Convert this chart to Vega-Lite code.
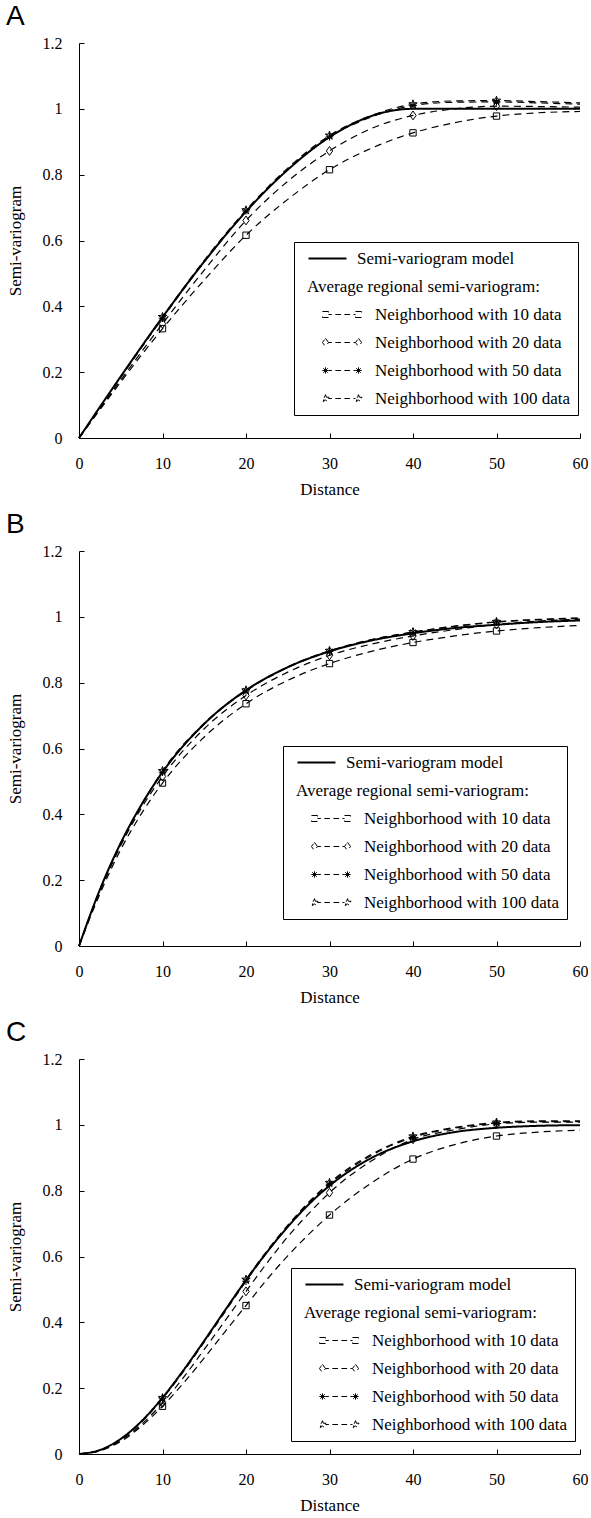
{
"$schema": "https://vega.github.io/schema/vega-lite/v6.json",
"background": "white",
"padding": {"left": 6, "top": 3, "right": 0, "bottom": 0},
"spacing": 14,
"datasets": {
"curves": [
{"panel":"A","series":"model","distance":0,"value":0},{"panel":"A","series":"model","distance":5,"value":0.187},{"panel":"A","series":"model","distance":10,"value":0.367},{"panel":"A","series":"model","distance":15,"value":0.536},{"panel":"A","series":"model","distance":20,"value":0.688},{"panel":"A","series":"model","distance":25,"value":0.815},{"panel":"A","series":"model","distance":30,"value":0.914},{"panel":"A","series":"model","distance":35,"value":0.978},{"panel":"A","series":"model","distance":40,"value":1},{"panel":"A","series":"model","distance":45,"value":1},{"panel":"A","series":"model","distance":50,"value":1},{"panel":"A","series":"model","distance":55,"value":1},{"panel":"A","series":"model","distance":60,"value":1},
{"panel":"A","series":"10","distance":0,"value":0},{"panel":"A","series":"10","distance":5,"value":0.17},{"panel":"A","series":"10","distance":10,"value":0.332},{"panel":"A","series":"10","distance":15,"value":0.48},{"panel":"A","series":"10","distance":20,"value":0.616},{"panel":"A","series":"10","distance":25,"value":0.725},{"panel":"A","series":"10","distance":30,"value":0.815},{"panel":"A","series":"10","distance":35,"value":0.88},{"panel":"A","series":"10","distance":40,"value":0.927},{"panel":"A","series":"10","distance":45,"value":0.958},{"panel":"A","series":"10","distance":50,"value":0.978},{"panel":"A","series":"10","distance":55,"value":0.988},{"panel":"A","series":"10","distance":60,"value":0.992},
{"panel":"A","series":"20","distance":0,"value":0},{"panel":"A","series":"20","distance":5,"value":0.176},{"panel":"A","series":"20","distance":10,"value":0.347},{"panel":"A","series":"20","distance":15,"value":0.51},{"panel":"A","series":"20","distance":20,"value":0.661},{"panel":"A","series":"20","distance":25,"value":0.78},{"panel":"A","series":"20","distance":30,"value":0.872},{"panel":"A","series":"20","distance":35,"value":0.94},{"panel":"A","series":"20","distance":40,"value":0.98},{"panel":"A","series":"20","distance":45,"value":1.0},{"panel":"A","series":"20","distance":50,"value":1.008},{"panel":"A","series":"20","distance":55,"value":1.007},{"panel":"A","series":"20","distance":60,"value":1.005},
{"panel":"A","series":"50","distance":0,"value":0},{"panel":"A","series":"50","distance":5,"value":0.184},{"panel":"A","series":"50","distance":10,"value":0.364},{"panel":"A","series":"50","distance":15,"value":0.535},{"panel":"A","series":"50","distance":20,"value":0.69},{"panel":"A","series":"50","distance":25,"value":0.815},{"panel":"A","series":"50","distance":30,"value":0.915},{"panel":"A","series":"50","distance":35,"value":0.975},{"panel":"A","series":"50","distance":40,"value":1.01},{"panel":"A","series":"50","distance":45,"value":1.02},{"panel":"A","series":"50","distance":50,"value":1.021},{"panel":"A","series":"50","distance":55,"value":1.018},{"panel":"A","series":"50","distance":60,"value":1.014},
{"panel":"A","series":"100","distance":0,"value":0},{"panel":"A","series":"100","distance":5,"value":0.186},{"panel":"A","series":"100","distance":10,"value":0.368},{"panel":"A","series":"100","distance":15,"value":0.54},{"panel":"A","series":"100","distance":20,"value":0.692},{"panel":"A","series":"100","distance":25,"value":0.82},{"panel":"A","series":"100","distance":30,"value":0.919},{"panel":"A","series":"100","distance":35,"value":0.98},{"panel":"A","series":"100","distance":40,"value":1.014},{"panel":"A","series":"100","distance":45,"value":1.024},{"panel":"A","series":"100","distance":50,"value":1.025},{"panel":"A","series":"100","distance":55,"value":1.022},{"panel":"A","series":"100","distance":60,"value":1.018},
{"panel":"B","series":"model","distance":0,"value":0},{"panel":"B","series":"model","distance":2.5,"value":0.171},{"panel":"B","series":"model","distance":5,"value":0.313},{"panel":"B","series":"model","distance":7.5,"value":0.43},{"panel":"B","series":"model","distance":10,"value":0.528},{"panel":"B","series":"model","distance":15,"value":0.675},{"panel":"B","series":"model","distance":20,"value":0.777},{"panel":"B","series":"model","distance":25,"value":0.847},{"panel":"B","series":"model","distance":30,"value":0.895},{"panel":"B","series":"model","distance":35,"value":0.928},{"panel":"B","series":"model","distance":40,"value":0.95},{"panel":"B","series":"model","distance":45,"value":0.966},{"panel":"B","series":"model","distance":50,"value":0.976},{"panel":"B","series":"model","distance":55,"value":0.984},{"panel":"B","series":"model","distance":60,"value":0.989},
{"panel":"B","series":"10","distance":0,"value":0},{"panel":"B","series":"10","distance":2.5,"value":0.158},{"panel":"B","series":"10","distance":5,"value":0.293},{"panel":"B","series":"10","distance":7.5,"value":0.403},{"panel":"B","series":"10","distance":10,"value":0.495},{"panel":"B","series":"10","distance":15,"value":0.635},{"panel":"B","series":"10","distance":20,"value":0.736},{"panel":"B","series":"10","distance":25,"value":0.807},{"panel":"B","series":"10","distance":30,"value":0.858},{"panel":"B","series":"10","distance":35,"value":0.895},{"panel":"B","series":"10","distance":40,"value":0.922},{"panel":"B","series":"10","distance":45,"value":0.942},{"panel":"B","series":"10","distance":50,"value":0.957},{"panel":"B","series":"10","distance":55,"value":0.967},{"panel":"B","series":"10","distance":60,"value":0.974},
{"panel":"B","series":"20","distance":0,"value":0},{"panel":"B","series":"20","distance":2.5,"value":0.165},{"panel":"B","series":"20","distance":5,"value":0.305},{"panel":"B","series":"20","distance":7.5,"value":0.42},{"panel":"B","series":"20","distance":10,"value":0.515},{"panel":"B","series":"20","distance":15,"value":0.66},{"panel":"B","series":"20","distance":20,"value":0.761},{"panel":"B","series":"20","distance":25,"value":0.832},{"panel":"B","series":"20","distance":30,"value":0.883},{"panel":"B","series":"20","distance":35,"value":0.917},{"panel":"B","series":"20","distance":40,"value":0.942},{"panel":"B","series":"20","distance":45,"value":0.961},{"panel":"B","series":"20","distance":50,"value":0.977},{"panel":"B","series":"20","distance":55,"value":0.987},{"panel":"B","series":"20","distance":60,"value":0.993},
{"panel":"B","series":"50","distance":0,"value":0},{"panel":"B","series":"50","distance":2.5,"value":0.17},{"panel":"B","series":"50","distance":5,"value":0.312},{"panel":"B","series":"50","distance":7.5,"value":0.429},{"panel":"B","series":"50","distance":10,"value":0.528},{"panel":"B","series":"50","distance":15,"value":0.674},{"panel":"B","series":"50","distance":20,"value":0.775},{"panel":"B","series":"50","distance":25,"value":0.846},{"panel":"B","series":"50","distance":30,"value":0.895},{"panel":"B","series":"50","distance":35,"value":0.93},{"panel":"B","series":"50","distance":40,"value":0.953},{"panel":"B","series":"50","distance":45,"value":0.971},{"panel":"B","series":"50","distance":50,"value":0.984},{"panel":"B","series":"50","distance":55,"value":0.991},{"panel":"B","series":"50","distance":60,"value":0.995},
{"panel":"B","series":"100","distance":0,"value":0},{"panel":"B","series":"100","distance":2.5,"value":0.171},{"panel":"B","series":"100","distance":5,"value":0.313},{"panel":"B","series":"100","distance":7.5,"value":0.43},{"panel":"B","series":"100","distance":10,"value":0.532},{"panel":"B","series":"100","distance":15,"value":0.677},{"panel":"B","series":"100","distance":20,"value":0.777},{"panel":"B","series":"100","distance":25,"value":0.848},{"panel":"B","series":"100","distance":30,"value":0.897},{"panel":"B","series":"100","distance":35,"value":0.931},{"panel":"B","series":"100","distance":40,"value":0.954},{"panel":"B","series":"100","distance":45,"value":0.972},{"panel":"B","series":"100","distance":50,"value":0.985},{"panel":"B","series":"100","distance":55,"value":0.992},{"panel":"B","series":"100","distance":60,"value":0.997},
{"panel":"C","series":"model","distance":0,"value":0},{"panel":"C","series":"model","distance":2.5,"value":0.012},{"panel":"C","series":"model","distance":5,"value":0.046},{"panel":"C","series":"model","distance":7.5,"value":0.1},{"panel":"C","series":"model","distance":10,"value":0.171},{"panel":"C","series":"model","distance":12.5,"value":0.254},{"panel":"C","series":"model","distance":15,"value":0.344},{"panel":"C","series":"model","distance":17.5,"value":0.437},{"panel":"C","series":"model","distance":20,"value":0.528},{"panel":"C","series":"model","distance":22.5,"value":0.613},{"panel":"C","series":"model","distance":25,"value":0.69},{"panel":"C","series":"model","distance":27.5,"value":0.758},{"panel":"C","series":"model","distance":30,"value":0.815},{"panel":"C","series":"model","distance":35,"value":0.899},{"panel":"C","series":"model","distance":40,"value":0.95},{"panel":"C","series":"model","distance":45,"value":0.978},{"panel":"C","series":"model","distance":50,"value":0.991},{"panel":"C","series":"model","distance":55,"value":0.997},{"panel":"C","series":"model","distance":60,"value":0.999},
{"panel":"C","series":"10","distance":0,"value":0},{"panel":"C","series":"10","distance":2.5,"value":0.01},{"panel":"C","series":"10","distance":5,"value":0.038},{"panel":"C","series":"10","distance":7.5,"value":0.085},{"panel":"C","series":"10","distance":10,"value":0.145},{"panel":"C","series":"10","distance":12.5,"value":0.215},{"panel":"C","series":"10","distance":15,"value":0.292},{"panel":"C","series":"10","distance":17.5,"value":0.372},{"panel":"C","series":"10","distance":20,"value":0.451},{"panel":"C","series":"10","distance":22.5,"value":0.53},{"panel":"C","series":"10","distance":25,"value":0.602},{"panel":"C","series":"10","distance":27.5,"value":0.667},{"panel":"C","series":"10","distance":30,"value":0.726},{"panel":"C","series":"10","distance":35,"value":0.823},{"panel":"C","series":"10","distance":40,"value":0.896},{"panel":"C","series":"10","distance":45,"value":0.94},{"panel":"C","series":"10","distance":50,"value":0.966},{"panel":"C","series":"10","distance":55,"value":0.978},{"panel":"C","series":"10","distance":60,"value":0.984},
{"panel":"C","series":"20","distance":0,"value":0},{"panel":"C","series":"20","distance":2.5,"value":0.01},{"panel":"C","series":"20","distance":5,"value":0.041},{"panel":"C","series":"20","distance":7.5,"value":0.09},{"panel":"C","series":"20","distance":10,"value":0.155},{"panel":"C","series":"20","distance":12.5,"value":0.232},{"panel":"C","series":"20","distance":15,"value":0.318},{"panel":"C","series":"20","distance":17.5,"value":0.405},{"panel":"C","series":"20","distance":20,"value":0.494},{"panel":"C","series":"20","distance":22.5,"value":0.58},{"panel":"C","series":"20","distance":25,"value":0.66},{"panel":"C","series":"20","distance":27.5,"value":0.73},{"panel":"C","series":"20","distance":30,"value":0.794},{"panel":"C","series":"20","distance":35,"value":0.89},{"panel":"C","series":"20","distance":40,"value":0.956},{"panel":"C","series":"20","distance":45,"value":0.985},{"panel":"C","series":"20","distance":50,"value":1.003},{"panel":"C","series":"20","distance":55,"value":1.008},{"panel":"C","series":"20","distance":60,"value":1.008},
{"panel":"C","series":"50","distance":0,"value":0},{"panel":"C","series":"50","distance":2.5,"value":0.011},{"panel":"C","series":"50","distance":5,"value":0.044},{"panel":"C","series":"50","distance":7.5,"value":0.097},{"panel":"C","series":"50","distance":10,"value":0.168},{"panel":"C","series":"50","distance":12.5,"value":0.25},{"panel":"C","series":"50","distance":15,"value":0.34},{"panel":"C","series":"50","distance":17.5,"value":0.432},{"panel":"C","series":"50","distance":20,"value":0.525},{"panel":"C","series":"50","distance":22.5,"value":0.612},{"panel":"C","series":"50","distance":25,"value":0.692},{"panel":"C","series":"50","distance":27.5,"value":0.762},{"panel":"C","series":"50","distance":30,"value":0.82},{"panel":"C","series":"50","distance":35,"value":0.907},{"panel":"C","series":"50","distance":40,"value":0.962},{"panel":"C","series":"50","distance":45,"value":0.99},{"panel":"C","series":"50","distance":50,"value":1.005},{"panel":"C","series":"50","distance":55,"value":1.01},{"panel":"C","series":"50","distance":60,"value":1.01},
{"panel":"C","series":"100","distance":0,"value":0},{"panel":"C","series":"100","distance":2.5,"value":0.012},{"panel":"C","series":"100","distance":5,"value":0.045},{"panel":"C","series":"100","distance":7.5,"value":0.099},{"panel":"C","series":"100","distance":10,"value":0.17},{"panel":"C","series":"100","distance":12.5,"value":0.253},{"panel":"C","series":"100","distance":15,"value":0.344},{"panel":"C","series":"100","distance":17.5,"value":0.437},{"panel":"C","series":"100","distance":20,"value":0.53},{"panel":"C","series":"100","distance":22.5,"value":0.617},{"panel":"C","series":"100","distance":25,"value":0.695},{"panel":"C","series":"100","distance":27.5,"value":0.765},{"panel":"C","series":"100","distance":30,"value":0.824},{"panel":"C","series":"100","distance":35,"value":0.91},{"panel":"C","series":"100","distance":40,"value":0.965},{"panel":"C","series":"100","distance":45,"value":0.992},{"panel":"C","series":"100","distance":50,"value":1.007},{"panel":"C","series":"100","distance":55,"value":1.012},{"panel":"C","series":"100","distance":60,"value":1.012}
],
"markers": [
{"panel":"A","series":"10","distance":10,"value":0.332},{"panel":"A","series":"10","distance":20,"value":0.616},{"panel":"A","series":"10","distance":30,"value":0.815},{"panel":"A","series":"10","distance":40,"value":0.927},{"panel":"A","series":"10","distance":50,"value":0.978},
{"panel":"A","series":"20","distance":10,"value":0.347},{"panel":"A","series":"20","distance":20,"value":0.661},{"panel":"A","series":"20","distance":30,"value":0.872},{"panel":"A","series":"20","distance":40,"value":0.98},{"panel":"A","series":"20","distance":50,"value":1.008},
{"panel":"A","series":"50","distance":10,"value":0.364},{"panel":"A","series":"50","distance":20,"value":0.69},{"panel":"A","series":"50","distance":30,"value":0.915},{"panel":"A","series":"50","distance":40,"value":1.01},{"panel":"A","series":"50","distance":50,"value":1.021},
{"panel":"A","series":"100","distance":10,"value":0.368},{"panel":"A","series":"100","distance":20,"value":0.692},{"panel":"A","series":"100","distance":30,"value":0.919},{"panel":"A","series":"100","distance":40,"value":1.014},{"panel":"A","series":"100","distance":50,"value":1.025},
{"panel":"B","series":"10","distance":10,"value":0.495},{"panel":"B","series":"10","distance":20,"value":0.736},{"panel":"B","series":"10","distance":30,"value":0.858},{"panel":"B","series":"10","distance":40,"value":0.922},{"panel":"B","series":"10","distance":50,"value":0.957},
{"panel":"B","series":"20","distance":10,"value":0.515},{"panel":"B","series":"20","distance":20,"value":0.761},{"panel":"B","series":"20","distance":30,"value":0.883},{"panel":"B","series":"20","distance":40,"value":0.942},{"panel":"B","series":"20","distance":50,"value":0.977},
{"panel":"B","series":"50","distance":10,"value":0.528},{"panel":"B","series":"50","distance":20,"value":0.775},{"panel":"B","series":"50","distance":30,"value":0.895},{"panel":"B","series":"50","distance":40,"value":0.953},{"panel":"B","series":"50","distance":50,"value":0.984},
{"panel":"B","series":"100","distance":10,"value":0.532},{"panel":"B","series":"100","distance":20,"value":0.777},{"panel":"B","series":"100","distance":30,"value":0.897},{"panel":"B","series":"100","distance":40,"value":0.954},{"panel":"B","series":"100","distance":50,"value":0.985},
{"panel":"C","series":"10","distance":10,"value":0.145},{"panel":"C","series":"10","distance":20,"value":0.451},{"panel":"C","series":"10","distance":30,"value":0.726},{"panel":"C","series":"10","distance":40,"value":0.896},{"panel":"C","series":"10","distance":50,"value":0.966},
{"panel":"C","series":"20","distance":10,"value":0.155},{"panel":"C","series":"20","distance":20,"value":0.494},{"panel":"C","series":"20","distance":30,"value":0.794},{"panel":"C","series":"20","distance":40,"value":0.956},{"panel":"C","series":"20","distance":50,"value":1.003},
{"panel":"C","series":"50","distance":10,"value":0.168},{"panel":"C","series":"50","distance":20,"value":0.525},{"panel":"C","series":"50","distance":30,"value":0.82},{"panel":"C","series":"50","distance":40,"value":0.962},{"panel":"C","series":"50","distance":50,"value":1.005},
{"panel":"C","series":"100","distance":10,"value":0.17},{"panel":"C","series":"100","distance":20,"value":0.53},{"panel":"C","series":"100","distance":30,"value":0.824},{"panel":"C","series":"100","distance":40,"value":0.965},{"panel":"C","series":"100","distance":50,"value":1.007}
]
},
"vconcat": [
{
"title": {"text": "A"},
"width": 501, "height": 395,
"layer": [
{"data": {"name": "curves"}, "transform": [{"filter": "datum.panel == 'A' && datum.series == 'model'"}],
 "mark": {"type": "line", "interpolate": "monotone", "color": "black", "strokeWidth": 2},
 "encoding": {
  "x": {"field": "distance", "type": "quantitative", "scale": {"domain": [0, 60], "nice": false}, "axis": {"title": "Distance", "values": [0, 10, 20, 30, 40, 50, 60]}},
  "y": {"field": "value", "type": "quantitative", "scale": {"domain": [0, 1.2], "nice": false}, "axis": {"title": "Semi-variogram", "values": [0, 0.2, 0.4, 0.6, 0.8, 1, 1.2], "format": "~g"}},
  "strokeDash": {"field": "series", "type": "nominal", "scale": {"domain": ["model", "header", "10", "20", "50", "100"], "range": [[1, 0], [1, 0], [7, 5], [7, 5], [7, 5], [7, 5]]},
   "legend": {"title": null, "legendX": 215, "legendY": 199,
    "labelExpr": "datum.value == 'model' ? 'Semi-variogram model' : datum.value == 'header' ? 'Average regional semi-variogram:' : 'Neighborhood with ' + datum.value + ' data'",
    "encode": {
     "symbols": {"update": {
      "shape": {"signal": "datum.value == 'model' ? 'M-4.79,0H0.64' : datum.value == 'header' ? 'M0,0' : datum.value == '10' ? 'M-2.79,-0.43H-1.93V0.43H-2.79ZM1.93,-0.43H2.79V0.43H1.93ZM-1.93,0H-1.45M-0.95,0H-0.15M0.35,0H1.15M1.65,0H1.93' : datum.value == '20' ? 'M-2.36,-0.6L-1.93,0L-2.36,0.6L-2.79,0ZM2.36,-0.6L2.79,0L2.36,0.6L1.93,0ZM-1.93,0H-1.45M-0.95,0H-0.15M0.35,0H1.15M1.65,0H1.93' : datum.value == '50' ? 'M-2.81,0H-1.91M-2.36,-0.45V0.45M-2.68,-0.32L-2.04,0.32M-2.68,0.32L-2.04,-0.32M1.91,0H2.81M2.36,-0.45V0.45M2.04,-0.32L2.68,0.32M2.04,0.32L2.68,-0.32M-1.93,0H-1.45M-0.95,0H-0.15M0.35,0H1.15M1.65,0H1.93' : 'M-2.36,-0.55L-2.231,-0.178L-1.837,-0.17L-2.151,0.068L-2.037,0.445L-2.36,0.22L-2.683,0.445L-2.569,0.068L-2.883,-0.17L-2.489,-0.178ZM2.36,-0.55L2.489,-0.178L2.883,-0.17L2.569,0.068L2.683,0.445L2.36,0.22L2.037,0.445L2.151,0.068L1.837,-0.17L2.231,-0.178ZM-1.93,0H-1.45M-0.95,0H-0.15M0.35,0H1.15M1.65,0H1.93'"},
      "strokeDash": {"value": [1, 0]},
      "strokeWidth": {"signal": "datum.value == 'model' ? 2 : 1"},
      "stroke": {"value": "black"},
      "fill": {"value": "transparent"}}},
     "labels": {"update": {"dx": {"signal": "datum.value == 'model' ? -18 : datum.value == 'header' ? -68 : 0"}}}}}}
 }},
{"data": {"name": "curves"}, "transform": [{"filter": "datum.panel == 'A' && datum.series != 'model'"}],
 "mark": {"type": "line", "interpolate": "monotone", "color": "black", "strokeWidth": 1.2},
 "encoding": {
  "x": {"field": "distance", "type": "quantitative"},
  "y": {"field": "value", "type": "quantitative"},
  "strokeDash": {"field": "series", "type": "nominal"}
 }},
{"data": {"name": "markers"}, "transform": [{"filter": "datum.panel == 'A'"}],
 "mark": {"type": "point", "filled": false, "color": "black", "strokeWidth": 1, "size": 40, "opacity": 1},
 "encoding": {
  "x": {"field": "distance", "type": "quantitative"},
  "y": {"field": "value", "type": "quantitative"},
  "shape": {"field": "series", "type": "nominal", "legend": null, "scale": {"domain": ["10", "20", "50", "100"], "range": ["M-1,-1H1V1H-1Z", "M0,-1.4L1,0L0,1.4L-1,0Z", "M-1.2,0H1.2M0,-1.2V1.2M-0.85,-0.85L0.85,0.85M-0.85,0.85L0.85,-0.85", "M0,-1.4L0.329,-0.453L1.331,-0.433L0.533,0.173L0.823,1.133L0,0.56L-0.823,1.133L-0.533,0.173L-1.331,-0.433L-0.329,-0.453Z"]}}
 }}
]
},
{
"title": {"text": "B"},
"width": 501, "height": 395,
"layer": [
{"data": {"name": "curves"}, "transform": [{"filter": "datum.panel == 'B' && datum.series == 'model'"}],
 "mark": {"type": "line", "interpolate": "monotone", "color": "black", "strokeWidth": 2},
 "encoding": {
  "x": {"field": "distance", "type": "quantitative", "scale": {"domain": [0, 60], "nice": false}, "axis": {"title": "Distance", "values": [0, 10, 20, 30, 40, 50, 60]}},
  "y": {"field": "value", "type": "quantitative", "scale": {"domain": [0, 1.2], "nice": false}, "axis": {"title": "Semi-variogram", "values": [0, 0.2, 0.4, 0.6, 0.8, 1, 1.2], "format": "~g"}},
  "strokeDash": {"field": "series", "type": "nominal", "scale": {"domain": ["model", "header", "10", "20", "50", "100"], "range": [[1, 0], [1, 0], [7, 5], [7, 5], [7, 5], [7, 5]]},
   "legend": {"title": null, "legendX": 204, "legendY": 195,
    "labelExpr": "datum.value == 'model' ? 'Semi-variogram model' : datum.value == 'header' ? 'Average regional semi-variogram:' : 'Neighborhood with ' + datum.value + ' data'",
    "encode": {
     "symbols": {"update": {
      "shape": {"signal": "datum.value == 'model' ? 'M-4.79,0H0.64' : datum.value == 'header' ? 'M0,0' : datum.value == '10' ? 'M-2.79,-0.43H-1.93V0.43H-2.79ZM1.93,-0.43H2.79V0.43H1.93ZM-1.93,0H-1.45M-0.95,0H-0.15M0.35,0H1.15M1.65,0H1.93' : datum.value == '20' ? 'M-2.36,-0.6L-1.93,0L-2.36,0.6L-2.79,0ZM2.36,-0.6L2.79,0L2.36,0.6L1.93,0ZM-1.93,0H-1.45M-0.95,0H-0.15M0.35,0H1.15M1.65,0H1.93' : datum.value == '50' ? 'M-2.81,0H-1.91M-2.36,-0.45V0.45M-2.68,-0.32L-2.04,0.32M-2.68,0.32L-2.04,-0.32M1.91,0H2.81M2.36,-0.45V0.45M2.04,-0.32L2.68,0.32M2.04,0.32L2.68,-0.32M-1.93,0H-1.45M-0.95,0H-0.15M0.35,0H1.15M1.65,0H1.93' : 'M-2.36,-0.55L-2.231,-0.178L-1.837,-0.17L-2.151,0.068L-2.037,0.445L-2.36,0.22L-2.683,0.445L-2.569,0.068L-2.883,-0.17L-2.489,-0.178ZM2.36,-0.55L2.489,-0.178L2.883,-0.17L2.569,0.068L2.683,0.445L2.36,0.22L2.037,0.445L2.151,0.068L1.837,-0.17L2.231,-0.178ZM-1.93,0H-1.45M-0.95,0H-0.15M0.35,0H1.15M1.65,0H1.93'"},
      "strokeDash": {"value": [1, 0]},
      "strokeWidth": {"signal": "datum.value == 'model' ? 2 : 1"},
      "stroke": {"value": "black"},
      "fill": {"value": "transparent"}}},
     "labels": {"update": {"dx": {"signal": "datum.value == 'model' ? -18 : datum.value == 'header' ? -68 : 0"}}}}}}
 }},
{"data": {"name": "curves"}, "transform": [{"filter": "datum.panel == 'B' && datum.series != 'model'"}],
 "mark": {"type": "line", "interpolate": "monotone", "color": "black", "strokeWidth": 1.2},
 "encoding": {
  "x": {"field": "distance", "type": "quantitative"},
  "y": {"field": "value", "type": "quantitative"},
  "strokeDash": {"field": "series", "type": "nominal"}
 }},
{"data": {"name": "markers"}, "transform": [{"filter": "datum.panel == 'B'"}],
 "mark": {"type": "point", "filled": false, "color": "black", "strokeWidth": 1, "size": 40, "opacity": 1},
 "encoding": {
  "x": {"field": "distance", "type": "quantitative"},
  "y": {"field": "value", "type": "quantitative"},
  "shape": {"field": "series", "type": "nominal", "legend": null, "scale": {"domain": ["10", "20", "50", "100"], "range": ["M-1,-1H1V1H-1Z", "M0,-1.4L1,0L0,1.4L-1,0Z", "M-1.2,0H1.2M0,-1.2V1.2M-0.85,-0.85L0.85,0.85M-0.85,0.85L0.85,-0.85", "M0,-1.4L0.329,-0.453L1.331,-0.433L0.533,0.173L0.823,1.133L0,0.56L-0.823,1.133L-0.533,0.173L-1.331,-0.433L-0.329,-0.453Z"]}}
 }}
]
},
{
"title": {"text": "C"},
"width": 501, "height": 395,
"layer": [
{"data": {"name": "curves"}, "transform": [{"filter": "datum.panel == 'C' && datum.series == 'model'"}],
 "mark": {"type": "line", "interpolate": "monotone", "color": "black", "strokeWidth": 2},
 "encoding": {
  "x": {"field": "distance", "type": "quantitative", "scale": {"domain": [0, 60], "nice": false}, "axis": {"title": "Distance", "values": [0, 10, 20, 30, 40, 50, 60]}},
  "y": {"field": "value", "type": "quantitative", "scale": {"domain": [0, 1.2], "nice": false}, "axis": {"title": "Semi-variogram", "values": [0, 0.2, 0.4, 0.6, 0.8, 1, 1.2], "format": "~g"}},
  "strokeDash": {"field": "series", "type": "nominal", "scale": {"domain": ["model", "header", "10", "20", "50", "100"], "range": [[1, 0], [1, 0], [7, 5], [7, 5], [7, 5], [7, 5]]},
   "legend": {"title": null, "legendX": 212, "legendY": 209,
    "labelExpr": "datum.value == 'model' ? 'Semi-variogram model' : datum.value == 'header' ? 'Average regional semi-variogram:' : 'Neighborhood with ' + datum.value + ' data'",
    "encode": {
     "symbols": {"update": {
      "shape": {"signal": "datum.value == 'model' ? 'M-4.79,0H0.64' : datum.value == 'header' ? 'M0,0' : datum.value == '10' ? 'M-2.79,-0.43H-1.93V0.43H-2.79ZM1.93,-0.43H2.79V0.43H1.93ZM-1.93,0H-1.45M-0.95,0H-0.15M0.35,0H1.15M1.65,0H1.93' : datum.value == '20' ? 'M-2.36,-0.6L-1.93,0L-2.36,0.6L-2.79,0ZM2.36,-0.6L2.79,0L2.36,0.6L1.93,0ZM-1.93,0H-1.45M-0.95,0H-0.15M0.35,0H1.15M1.65,0H1.93' : datum.value == '50' ? 'M-2.81,0H-1.91M-2.36,-0.45V0.45M-2.68,-0.32L-2.04,0.32M-2.68,0.32L-2.04,-0.32M1.91,0H2.81M2.36,-0.45V0.45M2.04,-0.32L2.68,0.32M2.04,0.32L2.68,-0.32M-1.93,0H-1.45M-0.95,0H-0.15M0.35,0H1.15M1.65,0H1.93' : 'M-2.36,-0.55L-2.231,-0.178L-1.837,-0.17L-2.151,0.068L-2.037,0.445L-2.36,0.22L-2.683,0.445L-2.569,0.068L-2.883,-0.17L-2.489,-0.178ZM2.36,-0.55L2.489,-0.178L2.883,-0.17L2.569,0.068L2.683,0.445L2.36,0.22L2.037,0.445L2.151,0.068L1.837,-0.17L2.231,-0.178ZM-1.93,0H-1.45M-0.95,0H-0.15M0.35,0H1.15M1.65,0H1.93'"},
      "strokeDash": {"value": [1, 0]},
      "strokeWidth": {"signal": "datum.value == 'model' ? 2 : 1"},
      "stroke": {"value": "black"},
      "fill": {"value": "transparent"}}},
     "labels": {"update": {"dx": {"signal": "datum.value == 'model' ? -18 : datum.value == 'header' ? -68 : 0"}}}}}}
 }},
{"data": {"name": "curves"}, "transform": [{"filter": "datum.panel == 'C' && datum.series != 'model'"}],
 "mark": {"type": "line", "interpolate": "monotone", "color": "black", "strokeWidth": 1.2},
 "encoding": {
  "x": {"field": "distance", "type": "quantitative"},
  "y": {"field": "value", "type": "quantitative"},
  "strokeDash": {"field": "series", "type": "nominal"}
 }},
{"data": {"name": "markers"}, "transform": [{"filter": "datum.panel == 'C'"}],
 "mark": {"type": "point", "filled": false, "color": "black", "strokeWidth": 1, "size": 40, "opacity": 1},
 "encoding": {
  "x": {"field": "distance", "type": "quantitative"},
  "y": {"field": "value", "type": "quantitative"},
  "shape": {"field": "series", "type": "nominal", "legend": null, "scale": {"domain": ["10", "20", "50", "100"], "range": ["M-1,-1H1V1H-1Z", "M0,-1.4L1,0L0,1.4L-1,0Z", "M-1.2,0H1.2M0,-1.2V1.2M-0.85,-0.85L0.85,0.85M-0.85,0.85L0.85,-0.85", "M0,-1.4L0.329,-0.453L1.331,-0.433L0.533,0.173L0.823,1.133L0,0.56L-0.823,1.133L-0.533,0.173L-1.331,-0.433L-0.329,-0.453Z"]}}
 }}
]
}
],
"resolve": {"scale": {"strokeDash": "independent", "shape": "independent"}, "legend": {"strokeDash": "independent", "shape": "independent"}},
"config": {
 "view": {"stroke": null},
 "font": "Liberation Serif",
 "axis": {"domainColor": "black", "domainWidth": 1, "tickColor": "black", "tickSize": -5, "tickWidth": 1, "labelPadding": 22, "labelFont": "Liberation Serif", "labelFontSize": 16, "labelColor": "black", "titleFont": "Liberation Serif", "titleFontSize": 17, "titleFontWeight": "normal", "titleColor": "black", "grid": false, "labelFlush": false, "labelOverlap": false},
 "axisX": {"titlePadding": 10},
 "axisY": {"titlePadding": 18},
 "title": {"anchor": "start", "frame": "bounds", "font": "Liberation Sans", "fontSize": 28, "fontWeight": "normal", "color": "black", "offset": 0},
 "legend": {"orient": "none", "padding": 8, "fillColor": "white", "strokeColor": "black", "labelFont": "Liberation Serif", "labelFontSize": 17, "labelColor": "black", "labelLimit": 400, "symbolSize": 196, "symbolOffset": 31.5, "labelOffset": 24.5, "rowPadding": 10, "symbolStrokeColor": "black", "symbolFillColor": "transparent", "symbolStrokeWidth": 1}
}
}
